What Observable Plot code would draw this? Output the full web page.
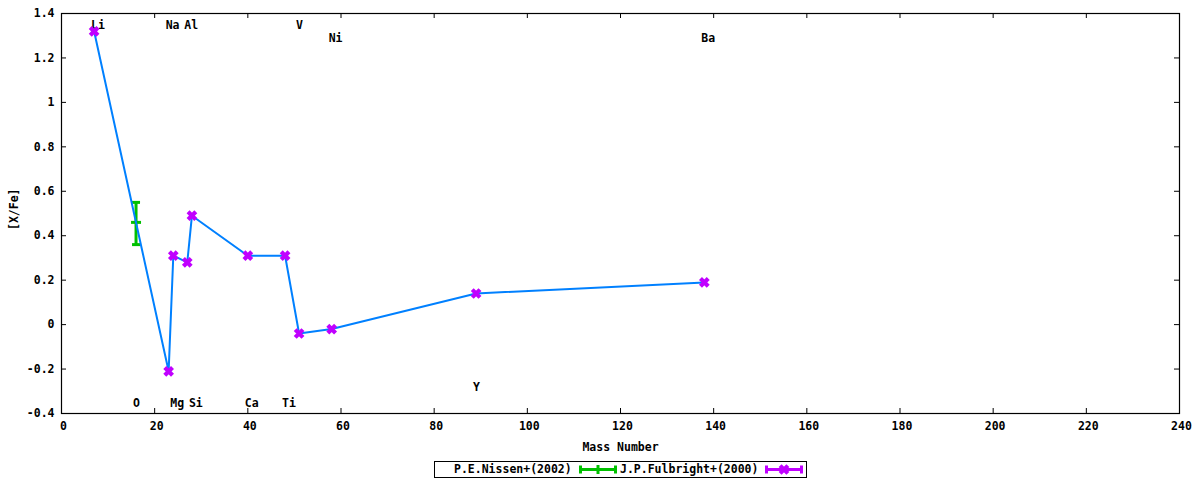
<!DOCTYPE html>
<html><head><meta charset="utf-8">
<script src="https://cdn.jsdelivr.net/npm/d3@7"></script>
<script src="https://cdn.jsdelivr.net/npm/@observablehq/plot@0.6"></script>
<style>
body{margin:0;background:#fff;}
#chart{width:1200px;height:480px;position:relative;font-family:"DejaVu Sans Mono",monospace;font-weight:bold;font-size:11.5px;color:#000;}
#legend{position:absolute;left:434px;top:461px;width:371px;height:15px;border:1px solid #000;}
#legend span,#legend svg{position:absolute;top:0;}
#legend span{line-height:15px;white-space:pre;}
</style>
</head><body>
<div id="chart"><div id="plot"></div><div id="legend"></div></div>
<script>
// Fulbright+(2000) points
const elements = ["Li","Na","Mg","Al","Si","Ca","Ti","V","Ni","Y","Ba"];
const massNumbers = [7,23,24,27,28,40,48,51,58,89,138];
const fulbrightValues = [1.32,-0.21,0.31,0.28,0.49,0.31,0.31,-0.04,-0.02,0.14,0.19];
// Nissen+(2002)
const nissenElements = ["O"];
const nissenMass = [16];
const nissenValues = [0.46];
const nissenLow = [0.36];
const nissenHigh = [0.55];
// element labels
const labelNames = ["Li","Na","Al","V","Ni","Ba","O","Mg","Si","Ca","Ti","Y"];
const labelMass = [7,23,27,51,58,138,16,24,28,40,48,89];
const labelLevel = [1.345,1.345,1.345,1.345,1.29,1.29,-0.355,-0.355,-0.355,-0.355,-0.355,-0.28];
// ticks
const xTicks = [0,20,40,60,80,100,120,140,160,180,200,220,240];
const yTicks = [-0.4,-0.2,0,0.2,0.4,0.6,0.8,1,1.2,1.4];

const fulbright = elements.map((e,i)=>({el:e, mass:massNumbers[i], v:fulbrightValues[i]}));
const nissen = nissenElements.map((e,i)=>({el:e, mass:nissenMass[i], v:nissenValues[i], lo:nissenLow[i], hi:nissenHigh[i]}));
const labels = labelNames.map((n,i)=>({name:n, mass:labelMass[i], y:labelLevel[i]}));

const hbar = {draw(ctx, size){ const r = Math.sqrt(size/Math.PI); ctx.moveTo(-r,0); ctx.lineTo(r,0); }};
const yFmt = d => String(+d.toFixed(1));
const W = 1200, H = 456, mL = 61, mR = 21, mT = 13, mB = 43;
const innerW = W - mL - mR, innerH = H - mT - mB, tk = 5;
const green = "#00c000", blue = "#0080ff", magenta = "#c000ff";

const chart = Plot.plot({
  width: W, height: H,
  marginLeft: mL, marginRight: mR, marginTop: mT, marginBottom: mB,
  x: {domain: [0,240]},
  y: {domain: [-0.4,1.4]},
  style: {fontFamily: '"DejaVu Sans Mono", monospace', fontSize: "11.5px", fontWeight: "bold", color: "#000", background: "#fff"},
  marks: [
    Plot.axisX({ticks: xTicks, tickSize: 0, tickPadding: 8, dx: 2, tickFormat: d => String(d), label: null}),
    Plot.axisY({ticks: yTicks, tickSize: 0, tickPadding: 7, tickFormat: yFmt, label: null}),
    Plot.tickX(xTicks, {x: d => d, insetTop: innerH - tk, stroke: "#000"}),
    Plot.tickX(xTicks, {x: d => d, insetBottom: innerH - tk, stroke: "#000"}),
    Plot.tickY(yTicks, {y: d => d, insetRight: innerW - tk, stroke: "#000"}),
    Plot.tickY(yTicks, {y: d => d, insetLeft: innerW - tk, stroke: "#000"}),
    Plot.frame({stroke: "#000", strokeWidth: 1.2}),
    Plot.text(["Mass Number"], {frameAnchor: "bottom", dy: 33.5, lineAnchor: "middle"}),
    Plot.text(["[X/Fe]"], {frameAnchor: "left", dx: -47.5, dy: 16.5, rotate: -90, lineAnchor: "middle"}),
    Plot.text(labels, {x: "mass", y: "y", text: "name", textAnchor: "start", dx: -3, lineAnchor: "middle"}),
    Plot.ruleX(nissen, {x: "mass", y1: "lo", y2: "hi", stroke: green, strokeWidth: 3}),
    Plot.dot(nissen, {x: "mass", y: "hi", symbol: hbar, r: 4, stroke: green, strokeWidth: 3}),
    Plot.dot(nissen, {x: "mass", y: "lo", symbol: hbar, r: 4, stroke: green, strokeWidth: 3}),
    Plot.dot(nissen, {x: "mass", y: "v", symbol: hbar, r: 5, stroke: green, strokeWidth: 3}),
    Plot.line(fulbright, {x: "mass", y: "v", stroke: blue, strokeWidth: 2}),
    Plot.dot(fulbright, {x: "mass", y: "v", symbol: "times", r: 3.6, stroke: magenta, strokeWidth: 4.2})
  ]
});
document.getElementById("plot").appendChild(chart);

// legend
const lg = d3.select("#legend");
lg.append("span").style("left","19px").text("P.E.Nissen+(2002)");
const s1 = lg.append("svg").attr("width",38).attr("height",15).style("left","144px");
s1.append("line").attr("x1",1).attr("x2",37).attr("y1",7.5).attr("y2",7.5).attr("stroke",green).attr("stroke-width",3);
[1.5,36.5].forEach(x=>s1.append("line").attr("x1",x).attr("x2",x).attr("y1",3.5).attr("y2",11.5).attr("stroke",green).attr("stroke-width",3));
s1.append("line").attr("x1",19).attr("x2",19).attr("y1",3).attr("y2",12).attr("stroke",green).attr("stroke-width",3);
lg.append("span").style("left","185px").text("J.P.Fulbright+(2000)");
const s2 = lg.append("svg").attr("width",38).attr("height",15).style("left","330px");
s2.append("line").attr("x1",1).attr("x2",37).attr("y1",7.5).attr("y2",7.5).attr("stroke",magenta).attr("stroke-width",3);
[1.5,36.5].forEach(x=>s2.append("line").attr("x1",x).attr("x2",x).attr("y1",3.5).attr("y2",11.5).attr("stroke",magenta).attr("stroke-width",3));
s2.append("path").attr("d", d3.symbol(d3.symbolTimes, 3.6*3.6*Math.PI)()).attr("transform","translate(19,7.5)").attr("stroke",magenta).attr("stroke-width",4.2).attr("fill","none");
</script>
</body></html>
